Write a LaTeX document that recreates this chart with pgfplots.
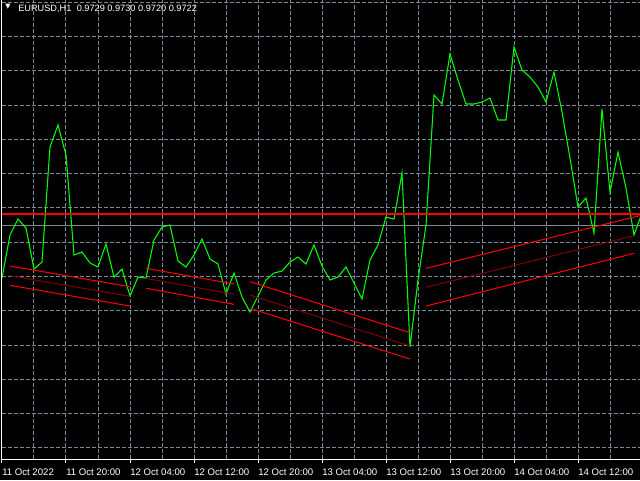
\documentclass[border=0pt]{standalone}
\usepackage{pgfplots}
\pgfplotsset{compat=1.18}
\usepackage{fontspec}
\setmainfont{Liberation Sans}
\newfontfamily\symfont{DejaVu Sans}
\definecolor{gridc}{RGB}{119,136,153}
\definecolor{lime}{RGB}{0,255,0}
\definecolor{chanred}{RGB}{255,0,0}
\definecolor{chandark}{RGB}{130,0,0}

\begin{document}
\begin{tikzpicture}
\fill[black] (0,0) rectangle (480pt,360pt);
\begin{axis}[
  at={(1.5pt,15.5pt)}, anchor=south west,
  scale only axis, width=478.5pt, height=344.5pt,
  xmin=2, xmax=640, ymin=20.7, ymax=480,
  axis x line=bottom, axis y line=left,
  axis line style={white, line width=0.75pt, -},
  clip mode=individual,
  no markers,
  xtick={2,66,130,194,258,322,386,450,514,578},
  xticklabels={11 Oct 2022, 11 Oct 20:00, 12 Oct 04:00, 12 Oct 12:00, 12 Oct 20:00, 13 Oct 04:00, 13 Oct 12:00, 13 Oct 20:00, 14 Oct 04:00, 14 Oct 12:00},
  minor xtick={34,98,162,226,290,354,418,482,546,610},
  ytick={32.2,66.5,100.8,135,169.3,203.6,237.9,272.2,306.4,340.7,375,409.2,443.5,477.8},
  yticklabels={},
  grid=both,
  major grid style={gridc, line width=0.75pt, dash pattern=on 3pt off 1.5pt},
  minor grid style={gridc, line width=0.75pt, dash pattern=on 3pt off 1.5pt},
  tick align=outside,
  major tick length=3pt, minor tick length=0pt,
  xtick style={white, line width=0.75pt},
  ytick style={draw=none},
  xticklabel style={font=\fontsize{7.2}{8}\selectfont, text=white, anchor=base west, inner sep=0pt, yshift=-9.3pt},
]
% bid line
\addplot[gridc, line width=0.75pt] coordinates {(2,254.7) (640,254.7)};
% close price line
\addplot[lime, line width=0.8pt] coordinates {
(2,202) (10,245) (18,261) (26,252) (34,211) (42,218) (50,333) (58,355)
(66,325) (74,225) (82,228) (90,217) (98,213) (106,236) (114,203) (122,211)
(130,184) (138,203) (146,202) (154,240) (162,253) (170,255) (178,219) (186,213)
(194,225) (202,241) (210,221) (218,216) (226,186) (234,207) (242,183) (250,168)
(258,184) (266,200) (274,207) (282,209) (290,218) (298,223) (306,216) (314,235)
(322,214) (330,200) (338,203) (346,213) (354,197) (362,181) (370,220) (378,235)
(386,263) (394,261) (402,307) (410,133) (418,200) (426,255) (434,385) (442,376)
(450,426) (458,400) (466,376) (474,376) (482,378) (490,382) (498,360) (506,360)
(514,433) (522,410) (530,403) (538,393) (546,378) (554,408) (562,368) (570,322)
(578,273) (586,282) (594,247) (602,371) (610,288) (618,328) (626,292) (634,245)
(642,267)
};
% channel 1
\addplot[chanred, line width=0.75pt] coordinates {(10,214) (130,193.3)};
\addplot[chandark, line width=0.75pt] coordinates {(10,204.3) (130,183.7)};
\addplot[chanred, line width=0.75pt] coordinates {(10,194.7) (130,174)};
% channel 2
\addplot[chanred, line width=0.75pt] coordinates {(146,211.7) (234,196)};
\addplot[chandark, line width=0.75pt] coordinates {(146,201.7) (234,185.7)};
\addplot[chanred, line width=0.75pt] coordinates {(146,191.7) (234,175.7)};
% channel 3
\addplot[chanred, line width=0.75pt] coordinates {(250,198.3) (410,147.3)};
\addplot[chandark, line width=0.75pt] coordinates {(250,185) (410,134)};
\addplot[chanred, line width=0.75pt] coordinates {(250,171.7) (410,121)};
% channel 4
\addplot[chanred, line width=0.75pt] coordinates {(426,211.7) (640,264.4)};
\addplot[chandark, line width=0.75pt] coordinates {(426,192.7) (634,244.3)};
\addplot[chanred, line width=0.75pt] coordinates {(426,174) (634,226.7)};
% horizontal level
\addplot[chanred, line width=1.5pt] coordinates {(2,265.7) (640,265.7)};
% header
\node[anchor=center, inner sep=0pt, text=white, font=\symfont\fontsize{5}{5}\selectfont] at (axis cs:8,473.5) {▼};
\node[anchor=base west, inner sep=0pt, text=white, font=\fontsize{6.9}{8}\selectfont] at (axis cs:18,468.5) {EURUSD,H1\hspace{4pt}0.9729 0.9730 0.9720 0.9722};
\end{axis}
\pgfresetboundingbox
\useasboundingbox (0,0) rectangle (480pt,360pt);
\end{tikzpicture}
\end{document}
